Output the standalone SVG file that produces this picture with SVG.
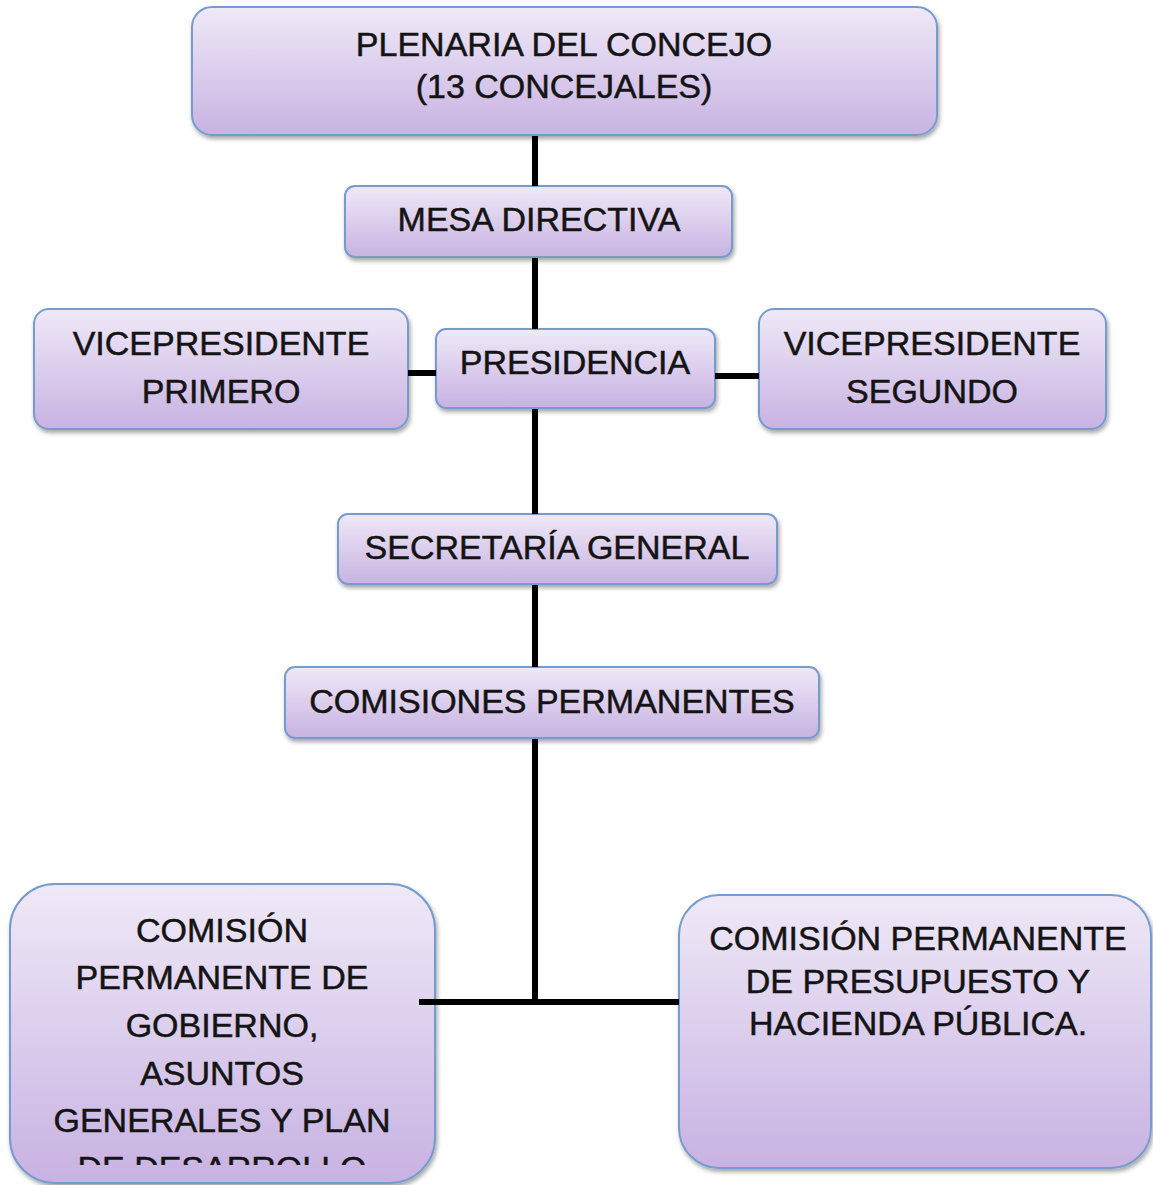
<svg xmlns="http://www.w3.org/2000/svg" width="1153" height="1185" viewBox="0 0 1153 1185">
<defs>
<linearGradient id="g" x1="0" y1="0" x2="0" y2="1">
<stop offset="0" stop-color="#efe9f7"/>
<stop offset="1" stop-color="#c8b2e2"/>
</linearGradient>
<filter id="sh" x="-5%" y="-5%" width="110%" height="115%">
<feDropShadow dx="1.5" dy="3" stdDeviation="2" flood-color="#000" flood-opacity="0.35"/>
</filter>
<clipPath id="clipL"><rect x="0" y="880" width="460" height="285"/></clipPath>
</defs>
<style>
.box{fill:url(#g);stroke:#769ccf;stroke-width:2;filter:url(#sh)}
.t{font-family:"Liberation Sans",Arial,sans-serif;font-size:34px;fill:#141414;stroke:#141414;stroke-width:0.5;text-anchor:middle}
.c{stroke:#000;stroke-width:6;fill:none}
</style>
<rect width="1153" height="1185" fill="#fff"/>
<g id="nodes">
<g id="plenaria">
<rect class="box" x="192" y="7" width="745" height="128" rx="20"/>
<text class="t" x="564" y="56">PLENARIA DEL CONCEJO</text>
<text class="t" x="564" y="98">(13 CONCEJALES)</text>
</g>
<g id="mesa">
<rect class="box" x="345" y="186" width="387" height="71" rx="10"/>
<text class="t" x="539" y="231">MESA DIRECTIVA</text>
</g>
<g id="vp1">
<rect class="box" x="34" y="309" width="374" height="120" rx="15"/>
<text class="t" x="221" y="355">VICEPRESIDENTE</text>
<text class="t" x="221" y="403">PRIMERO</text>
</g>
<g id="presidencia">
<rect class="box" x="436" y="329" width="279" height="79" rx="10"/>
<text class="t" x="575" y="374">PRESIDENCIA</text>
</g>
<g id="vp2">
<rect class="box" x="759" y="309" width="347" height="120" rx="15"/>
<text class="t" x="932" y="355">VICEPRESIDENTE</text>
<text class="t" x="932" y="403">SEGUNDO</text>
</g>
<g id="secretaria">
<rect class="box" x="338" y="514" width="439" height="70" rx="10"/>
<text class="t" x="557" y="559">SECRETARÍA GENERAL</text>
</g>
<g id="comisiones">
<rect class="box" x="285" y="667" width="534" height="71" rx="10"/>
<text class="t" x="552" y="713">COMISIONES PERMANENTES</text>
</g>
<g id="comision-gobierno">
<rect class="box" x="10" y="884" width="425" height="299" rx="45"/>
<g clip-path="url(#clipL)">
<text class="t" x="222" y="942">COMISIÓN</text>
<text class="t" x="222" y="989">PERMANENTE DE</text>
<text class="t" x="222" y="1037">GOBIERNO,</text>
<text class="t" x="222" y="1085">ASUNTOS</text>
<text class="t" x="222" y="1132">GENERALES Y PLAN</text>
<text class="t" x="222" y="1180">DE DESARROLLO</text>
</g>
</g>
<g id="comision-presupuesto">
<rect class="box" x="679" y="895" width="472" height="273" rx="40"/>
<text class="t" x="918" y="950">COMISIÓN PERMANENTE</text>
<text class="t" x="918" y="993">DE PRESUPUESTO Y</text>
<text class="t" x="918" y="1035">HACIENDA PÚBLICA.</text>
</g>
</g>
<g id="connectors">
<line class="c" x1="535" y1="136" x2="535" y2="186"/>
<line class="c" x1="535" y1="258" x2="535" y2="329"/>
<line class="c" x1="535" y1="409" x2="535" y2="514"/>
<line class="c" x1="535" y1="585" x2="535" y2="667"/>
<line class="c" x1="535" y1="739" x2="535" y2="1002"/>
<line class="c" x1="419" y1="1002" x2="679" y2="1002"/>
<line class="c" x1="408" y1="373" x2="436" y2="373"/>
<line class="c" x1="715" y1="376" x2="759" y2="376"/>
</g>
</svg>
